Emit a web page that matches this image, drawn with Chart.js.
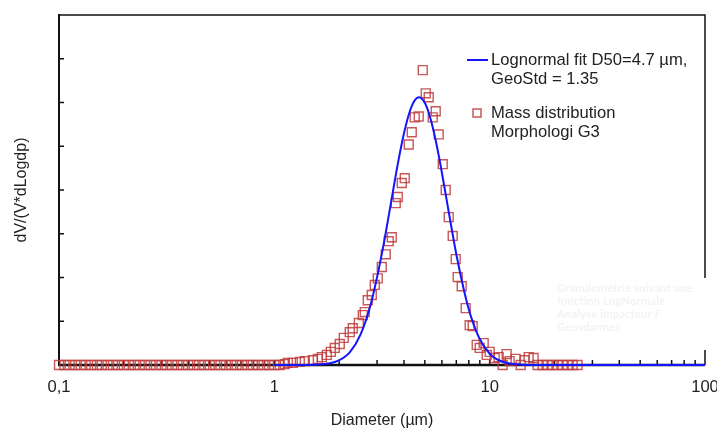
<!DOCTYPE html>
<html>
<head>
<meta charset="utf-8">
<script src="https://cdn.jsdelivr.net/npm/chart.js@4.4.0/dist/chart.umd.min.js"></script>
<style>
  html, body { margin: 0; padding: 0; background: #fff; }
</style>
</head>
<body>
<canvas id="psdChart" width="717" height="428"></canvas>
<script>
// Lognormal fit curve (diameter in um, dV/(V*dLogdp))
const fitDiameter = [1, 1.259, 1.413, 1.585, 1.778, 1.995, 2.239, 2.512, 2.818, 3.162, 3.350, 3.548, 3.758, 3.981, 4.217, 4.467, 4.70,
    5.012, 5.309, 5.623, 5.957, 6.310, 6.683, 7.079, 7.943, 8.913, 10, 11.22, 12.59, 14.13, 15.85, 19.95, 30, 100];
const fitValues = [0, 0.001, 0.002, 0.009, 0.032, 0.104, 0.288, 0.692, 1.431, 2.558, 3.236, 3.945, 4.636, 5.252, 5.733, 6.033, 6.12,
    5.981, 5.636, 5.119, 4.480, 3.780, 3.074, 2.410, 1.326, 0.630, 0.258, 0.091, 0.028, 0.007, 0.002, 0, 0, 0];

// Mass distribution measured with the Morphologi G3
const massDiameter = [0.1, 0.106, 0.112, 0.119, 0.126, 0.133, 0.141, 0.150, 0.158, 0.168, 0.178, 0.188, 0.200, 0.211, 0.224, 0.237,
    0.251, 0.266, 0.282, 0.299, 0.316, 0.335, 0.355, 0.376, 0.398, 0.422, 0.447, 0.473, 0.501, 0.531, 0.562, 0.596, 0.631, 0.668,
    0.708, 0.750, 0.794, 0.841, 0.891, 0.944, 1.0, 1.06, 1.119, 1.155, 1.218, 1.313, 1.385, 1.510, 1.592, 1.662, 1.752, 1.829, 1.909,
    2.013, 2.101, 2.240, 2.313, 2.467, 2.575, 2.630, 2.716, 2.835, 2.927, 3.022, 3.154, 3.292, 3.399, 3.510, 3.663, 3.743, 3.906,
    4.033, 4.209, 4.346, 4.487, 4.683, 4.888, 5.047, 5.212, 5.439, 5.616, 5.799, 6.053, 6.250, 6.453, 6.735, 6.954, 7.105, 7.415,
    7.739, 8.076, 8.339, 8.704, 8.987, 9.380, 9.685, 10.0, 10.55, 11.01, 11.49, 11.99, 12.38, 13.20, 13.93, 14.53, 15.17, 16.00,
    16.70, 17.62, 18.58, 19.60, 20.68, 21.82, 23.01, 24.28, 25.61];
const massValues = [0, 0, 0, 0, 0, 0, 0, 0, 0, 0, 0, 0, 0, 0, 0, 0,
    0, 0, 0, 0, 0, 0, 0, 0, 0, 0, 0, 0, 0, 0, 0, 0, 0, 0,
    0, 0, 0, 0, 0, 0, 0, 0, 0.02, 0.05, 0.05, 0.07, 0.09, 0.11, 0.14, 0.18, 0.23, 0.30, 0.39,
    0.48, 0.62, 0.75, 0.84, 0.96, 1.14, 1.21, 1.48, 1.60, 1.83, 1.98, 2.24, 2.53, 2.83, 2.92, 3.70, 3.84, 4.16,
    4.27, 5.04, 5.32, 5.66, 5.68, 6.74, 6.21, 6.12, 5.66, 5.80, 5.27, 4.59, 4.00, 3.38, 2.95, 2.42, 2.01, 1.80,
    1.30, 0.91, 0.89, 0.46, 0.39, 0.50, 0.23, 0.30, 0.16, 0.18, 0, 0.25, 0.09, 0.14, 0, 0.11, 0.18, 0.16,
    0, 0, 0, 0, 0, 0, 0, 0, 0];

const xLabelValues = [0.1, 1, 10, 100];
const xLabelTexts = ["0,1", "1", "10", "100"];
const yTickValues = [1, 2, 3, 4, 5, 6, 7];

const fitLabel = ["Lognormal fit D50=4.7 µm,", "GeoStd = 1.35"];
const massLabel = ["Mass distribution", "Morphologi G3"];
const watermark = ["Granulométrie suivant une", "fonction LogNormale", "Analyse impacteur F.", "Gensdarmes"];

const BLUE = "#1414ff";
const RED = "rgba(190, 58, 58, 0.85)";
const TEXT = "#222";
const FONT = "'Liberation Sans', Arial, sans-serif";

// frame + inward ticks, drawn under the datasets
const framePlugin = {
    id: "frame",
    beforeDatasetsDraw(chart) {
        const { ctx, chartArea: a, scales } = chart;
        ctx.save();
        ctx.strokeStyle = "#111";
        ctx.lineWidth = 1.5;
        ctx.beginPath();
        ctx.moveTo(a.left, a.top);
        ctx.lineTo(a.right, a.top);
        ctx.lineTo(a.right, a.bottom);
        ctx.stroke();

        ctx.lineWidth = 2;
        ctx.beginPath();
        ctx.moveTo(a.left, a.top - 1);
        ctx.lineTo(a.left, a.bottom);
        ctx.stroke();
        ctx.lineWidth = 2.5;
        ctx.beginPath();
        ctx.moveTo(a.left - 1, a.bottom);
        ctx.lineTo(a.right, a.bottom);
        ctx.stroke();

        // y ticks
        ctx.lineWidth = 1.5;
        yTickValues.forEach((v) => {
            const y = scales.y.getPixelForValue(v);
            ctx.beginPath();
            ctx.moveTo(a.left, y);
            ctx.lineTo(a.left + 5, y);
            ctx.stroke();
        });
        // x log ticks
        for (let dec = 0.1; dec < 100; dec *= 10) {
            for (let m = 1; m <= 9; m++) {
                const x = scales.x.getPixelForValue(dec * m);
                ctx.beginPath();
                ctx.moveTo(x, a.bottom);
                ctx.lineTo(x, a.bottom - 5);
                ctx.stroke();
            }
        }
        ctx.restore();
    },
    afterDatasetsDraw(chart) {
        const { ctx } = chart;
        ctx.save();
        // faint watermark box
        ctx.fillStyle = "#fff";
        ctx.fillRect(553, 278, 164, 72);
        ctx.fillStyle = "#f3f3f3";
        ctx.font = "bold 11.5px Lato, sans-serif";
        ctx.textBaseline = "middle";
        watermark.forEach((t, i) => ctx.fillText(t, 557, 288 + i * 13));

        // legend
        ctx.fillStyle = TEXT;
        ctx.font = "16.6px " + FONT;
        ctx.strokeStyle = BLUE;
        ctx.lineWidth = 2;
        ctx.beginPath();
        ctx.moveTo(467, 60);
        ctx.lineTo(488, 60);
        ctx.stroke();
        fitLabel.forEach((t, i) => ctx.fillText(t, 491, 60 + i * 19));

        ctx.strokeStyle = RED;
        ctx.lineWidth = 1.5;
        ctx.strokeRect(473, 109, 8, 8);
        massLabel.forEach((t, i) => ctx.fillText(t, 491, 113 + i * 19));
        ctx.restore();
    },
};

const ctx = document.getElementById("psdChart");

new Chart(ctx, {
    type: "scatter",
    data: {
        datasets: [
            {
                type: "line",
                label: fitLabel.join(" "),
                data: fitDiameter.map((d, i) => ({ x: d, y: fitValues[i] })),
                borderColor: BLUE,
                borderWidth: 2,
                pointRadius: 0,
                cubicInterpolationMode: "monotone",
                fill: false,
                clip: false,
                order: 0,
            },
            {
                label: massLabel.join(" "),
                data: massDiameter.map((d, i) => ({ x: d, y: massValues[i] })),
                pointStyle: "rect",
                pointRadius: 6.3,
                pointBorderWidth: 1.4,
                borderColor: RED,
                backgroundColor: "rgba(0,0,0,0)",
                clip: false,
                order: 1,
            },
        ],
    },
    options: {
        responsive: false,
        animation: false,
        layout: { padding: { top: 15, right: 12, left: 0, bottom: 0 } },
        scales: {
            x: {
                type: "logarithmic",
                min: 0.1,
                max: 100,
                grid: { display: false, drawTicks: false },
                border: { display: false },
                afterBuildTicks: (scale) => {
                    scale.ticks = xLabelValues.map((v) => ({ value: v }));
                },
                afterFit: (scale) => {
                    scale.height = 63;
                    scale.paddingLeft = 0;
                    scale.paddingRight = 0;
                },
                ticks: {
                    autoSkip: false,
                    maxRotation: 0,
                    padding: 12,
                    color: TEXT,
                    font: { size: 16.6, family: FONT },
                    callback: (v) => {
                        const i = xLabelValues.indexOf(v);
                        return i >= 0 ? xLabelTexts[i] : "";
                    },
                },
                title: {
                    display: true,
                    text: "Diameter (µm)",
                    color: TEXT,
                    font: { size: 16, family: FONT },
                    padding: { top: 0, bottom: -2 },
                },
            },
            y: {
                min: 0,
                max: 8,
                grid: { display: false, drawTicks: false },
                border: { display: false },
                ticks: { display: false },
                afterFit: (scale) => {
                    scale.width = 59;
                },
                title: {
                    display: true,
                    text: "dV/(V*dLogdp)",
                    color: TEXT,
                    font: { size: 16, family: FONT },
                    padding: { top: 12, bottom: 0 },
                },
            },
        },
        plugins: {
            legend: { display: false },
            tooltip: { enabled: false },
        },
    },
    plugins: [framePlugin],
});
</script>
</body>
</html>
